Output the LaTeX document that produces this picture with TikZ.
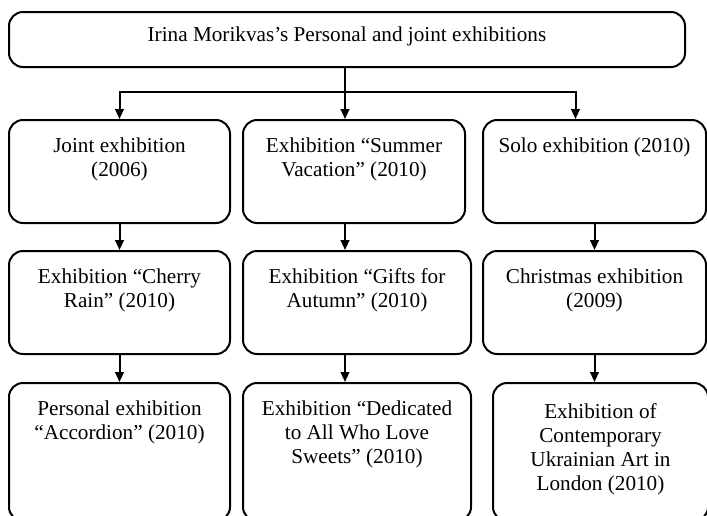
\documentclass[tikz,border=0pt]{standalone}
\usepackage{fontspec}
\setmainfont{Liberation Serif}
\usetikzlibrary{arrows.meta}

\begin{document}
\begin{tikzpicture}[x=0.75pt,y=0.75pt,yscale=-1,xscale=1,
        exbox/.style={draw, line width=1.5pt, rounded corners=10.5pt, anchor=north, align=center, inner xsep=2pt, inner ysep=0pt, font=\fontsize{15.9}{18}\selectfont, text height=42pt, text depth=35.25pt},
        arr/.style={line width=1.5pt, -{Triangle[length=7.5pt,width=6.5pt]}}]
        \useasboundingbox (0,0) rectangle (707,515);

        \node[exbox, minimum width=507pt, text height=21.75pt, text depth=19.5pt] (top) at (347,11) {Irina Morikvas’s Personal and joint exhibitions};

        \node[exbox, minimum width=165.75pt] (joint) at (119.5,119) {Joint exhibition\\(2006)};
        \node[exbox, minimum width=166.5pt] (summer) at (354,119) {Exhibition “Summer\\Vacation” (2010)};
        \node[exbox, minimum width=167.25pt, text height=24pt, text depth=53.25pt] (solo) at (594.5,119) {Solo exhibition (2010)};

        \node[exbox, minimum width=165.75pt] (cherry) at (119.5,250) {Exhibition “Cherry\\Rain” (2010)};
        \node[exbox, minimum width=171pt] (gifts) at (357,250) {Exhibition “Gifts for\\Autumn” (2010)};
        \node[exbox, minimum width=167.25pt] (christmas) at (594.5,250) {Christmas exhibition\\(2009)};

        \node[exbox, minimum width=165.75pt, text depth=61.5pt] (accordion) at (119.5,382) {Personal exhibition\\“Accordion” (2010)};
        \node[exbox, minimum width=171pt, text height=60pt, text depth=43.5pt] (sweets) at (357,382) {Exhibition “Dedicated\\to All Who Love\\Sweets” (2010)};
        \node[exbox, minimum width=161.25pt, text height=80.25pt, text depth=23.25pt] (london) at (600.5,382) {Exhibition of\\Contemporary\\Ukrainian Art in\\London (2010)};

        % connectors
        \coordinate (bus) at (345,92);
        \draw[arr] (top.south -| bus) -- (summer.north -| bus);
        \draw[arr] (bus) -| (joint.north);
        \draw[arr] (bus) -| ([xshift=-14.25pt]solo.north);
        \draw[arr] (joint) -- (cherry);
        \draw[arr] (cherry) -- (accordion);
        \draw[arr] (summer.south -| bus) -- (gifts.north -| bus);
        \draw[arr] (gifts.south -| bus) -- (sweets.north -| bus);
        \draw[arr] (solo.south) -- (solo.south |- christmas.north);
        \draw[arr] (christmas.south) -- (christmas.south |- london.north);
\end{tikzpicture}
\end{document}
